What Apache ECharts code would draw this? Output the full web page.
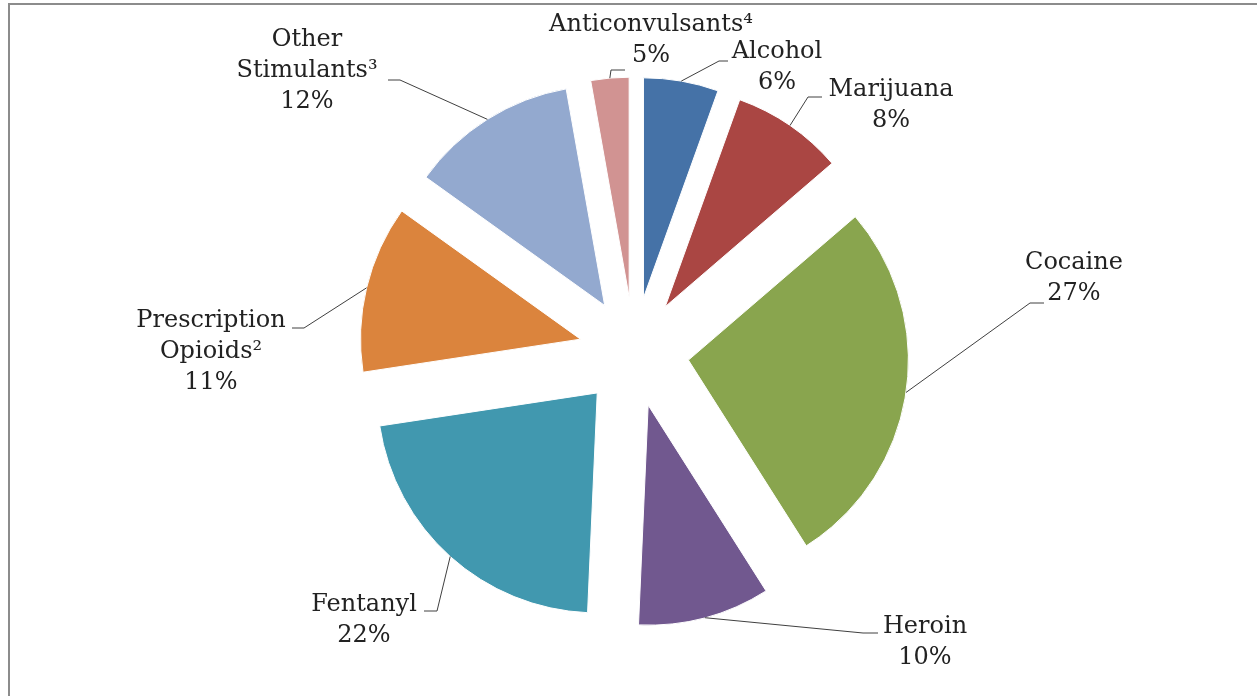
<!DOCTYPE html>
<html>
<head>
<meta charset="utf-8">
<script src="https://cdn.jsdelivr.net/npm/echarts@6/dist/echarts.min.js"></script>
<style>
  html, body { margin: 0; padding: 0; background: #ffffff; }
  #chart { position: absolute; left: 0; top: 0; width: 1257px; height: 696px; }
  #frame { position: absolute; left: 8px; top: 3px; width: 1400px; height: 800px;
           border-left: 2px solid #8c8c8c; border-top: 2px solid #8c8c8c; pointer-events: none; }
</style>
</head>
<body>
<div id="chart"></div>
<div id="frame"></div>
<script>
// ---- data ----
const categories = ['Alcohol', 'Marijuana', 'Cocaine', 'Heroin', 'Fentanyl',
                    'Prescription\nOpioids²', 'Other\nStimulants³', 'Anticonvulsants⁴'];
// slice sizes estimated from the drawn angles
const sliceValues = [5.5, 8.2, 27.3, 9.7, 21.9, 12.3, 12.3, 2.8];
// percentages printed in the labels
const pctLabels = [6, 8, 27, 10, 22, 11, 12, 5];

// ---- styling / layout (kept separate from data) ----
const colors = ['#4572A7', '#AA4643', '#89A54E', '#71588F', '#4198AF', '#DB843D', '#93A9CF', '#D19392'];
const pieCenter = [634, 352];
const pieRadius = 220;
const explode = 55;
const labelSpots = [[777, 67], [891, 105], [1074, 278], [925, 642], [364, 620], [211, 352], [307, 71], [651, 40]];
const leaderTails = [
  [[719, 61], [728, 61]],
  [[808, 97], [822, 97]],
  [[1030, 303], [1044, 303]],
  [[863, 633], [878, 633]],
  [[437, 611], [424, 611]],
  [[304, 328], [292, 328]],
  [[400, 80], [388, 80]],
  [[611, 70], [625, 70]]
];

const chart = echarts.init(document.getElementById('chart'), null, { renderer: 'canvas' });

const sliceData = categories.map((name, i) => ({
  name: name,
  value: sliceValues[i],
  selected: true,
  itemStyle: { color: colors[i] }
}));
const labelData = categories.map((name, i) => ({ name: name, value: sliceValues[i] }));

chart.setOption({
  animation: false,
  backgroundColor: '#ffffff',
  series: [{
    // visible exploded slices
    type: 'pie',
    center: pieCenter,
    radius: [0, pieRadius],
    startAngle: 90,
    clockwise: true,
    selectedMode: 'multiple',
    selectedOffset: explode,
    itemStyle: { borderColor: '#ffffff', borderWidth: 1 },
    emphasis: { disabled: true },
    label: { show: false },
    labelLine: { show: false },
    data: sliceData
  }, {
    // same pie, transparent, only carrying the data labels
    type: 'pie',
    center: pieCenter,
    radius: [0, pieRadius],
    startAngle: 90,
    clockwise: true,
    silent: true,
    z: 3,
    avoidLabelOverlap: false,
    itemStyle: { color: 'rgba(0,0,0,0)', borderWidth: 0 },
    emphasis: { disabled: true },
    label: {
      show: true,
      position: 'outside',
      fontFamily: 'DejaVu Serif',
      fontSize: 24,
      lineHeight: 31,
      color: '#222222',
      align: 'center',
      formatter: p => p.name + '\n' + pctLabels[p.dataIndex] + '%'
    },
    labelLine: {
      show: true,
      smooth: false,
      lineStyle: { color: '#404040', width: 1 }
    },
    labelLayout: function (params) {
      const i = params.dataIndex;
      const pts = params.labelLinePoints;
      let start = leaderTails[i][0];
      if (pts && pts[0]) {
        const vx = pts[0][0] - pieCenter[0];
        const vy = pts[0][1] - pieCenter[1];
        const len = Math.sqrt(vx * vx + vy * vy) || 1;
        start = [pts[0][0] + explode * vx / len, pts[0][1] + explode * vy / len];
      }
      return {
        x: labelSpots[i][0],
        y: labelSpots[i][1],
        align: 'center',
        verticalAlign: 'middle',
        labelLinePoints: [start, leaderTails[i][0], leaderTails[i][1]]
      };
    },
    data: labelData
  }]
});
</script>
</body>
</html>
